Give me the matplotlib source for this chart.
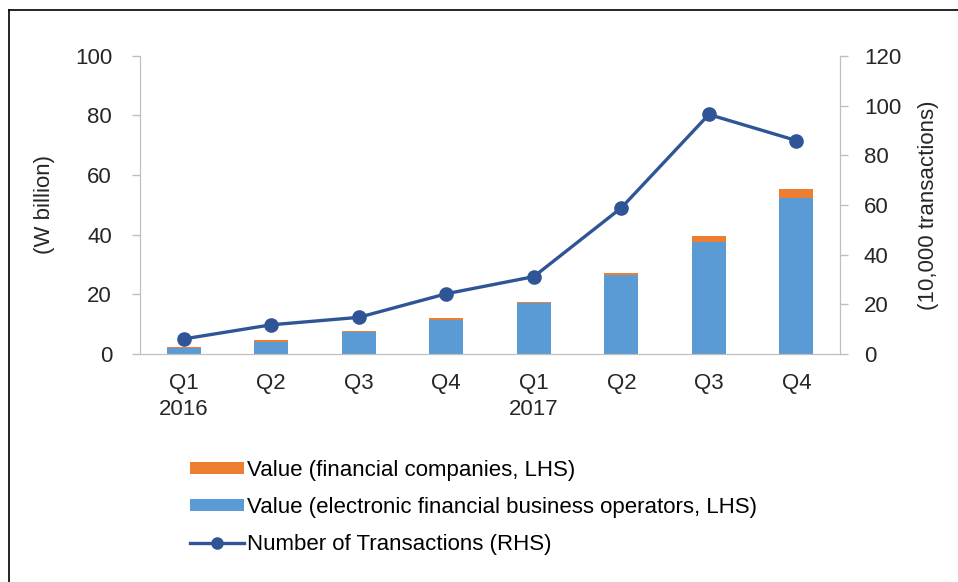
import matplotlib.pyplot as plt
from matplotlib.lines import Line2D
from matplotlib.patches import Patch

plt.rcParams['font.family'] = ['Liberation Sans', 'DejaVu Sans']

# Data
quarters = ['Q1\n2016', 'Q2', 'Q3', 'Q4', 'Q1\n2017', 'Q2', 'Q3', 'Q4']
value_efbo = [1.8, 4.0, 7.4, 11.5, 17.0, 26.5, 37.7, 52.3]   # W billion
value_fin = [0.4, 0.5, 0.4, 0.4, 0.4, 0.8, 1.7, 2.9]         # W billion
transactions = [6.0, 11.7, 14.7, 24.2, 31.1, 58.8, 96.4, 85.9]  # 10,000 transactions

blue = '#5B9BD5'
orange = '#ED7D31'
navy = '#2F5597'
grey = '#BFBFBF'
txt = '#262626'
fs = 16

fig = plt.figure(figsize=(9.58, 5.82), dpi=100)
ax = fig.add_axes([0.146, 0.392, 0.731, 0.512])
ax2 = ax.twinx()

x = list(range(len(quarters)))
ax.bar(x, value_efbo, width=0.39, color=blue, zorder=2)
ax.bar(x, value_fin, width=0.39, bottom=value_efbo, color=orange, zorder=2)
ax2.plot(x, transactions, color=navy, lw=2.4, marker='o', ms=9.5, zorder=3)

ax.set_xlim(-0.5, 7.5)
ax.set_ylim(0, 100)
ax2.set_ylim(0, 120)
ax.set_yticks(range(0, 101, 20))
ax2.set_yticks(range(0, 121, 20))
ax.set_xticks(x)
ax.set_xticklabels(quarters, linespacing=1.3)

for a in (ax, ax2):
    a.spines['top'].set_visible(False)
    for s in ('left', 'right', 'bottom'):
        a.spines[s].set_color(grey)
    a.tick_params(axis='y', colors=grey, labelcolor=txt, labelsize=fs,
                  length=6, width=1)
ax.tick_params(axis='y', pad=14)
ax2.tick_params(axis='y', pad=11)
ax.tick_params(axis='x', length=0, labelsize=fs, labelcolor=txt, pad=14)

ax.set_ylabel('(W billion)', fontsize=fs, color=txt, labelpad=14)
ax2.set_ylabel('(10,000 transactions)', fontsize=fs, color=txt,
               rotation=90, labelpad=12)

handles = [
    Patch(facecolor=orange, edgecolor='none'),
    Patch(facecolor=blue, edgecolor='none'),
    Line2D([], [], color=navy, lw=2.4, marker='o', ms=8),
]
labels = [
    'Value (financial companies, LHS)',
    'Value (electronic financial business operators, LHS)',
    'Number of Transactions (RHS)',
]
fig.legend(handles, labels, loc='upper left',
           bbox_to_anchor=(190 / 958, 1 - 460 / 582), frameon=False,
           fontsize=fs, handlelength=2.45, handleheight=0.4,
           handletextpad=0.1, labelspacing=0.72, borderpad=0,
           borderaxespad=0)

# frame lines seen at the top and left of the reference image
fig.add_artist(Line2D([9 / 958, 1], [1 - 10 / 582, 1 - 10 / 582],
                      color='black', lw=1.2, transform=fig.transFigure))
fig.add_artist(Line2D([9 / 958, 9 / 958], [0, 1 - 10 / 582],
                      color='black', lw=1.2, transform=fig.transFigure))

fig.savefig('out.png', dpi=100)
